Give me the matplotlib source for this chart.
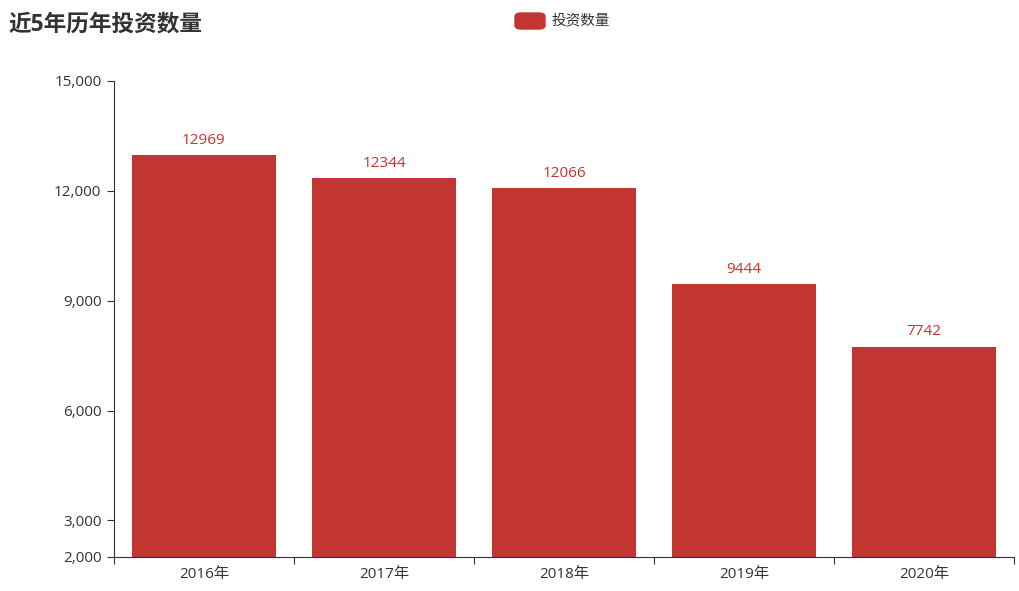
import matplotlib.pyplot as plt
import matplotlib as mpl
from matplotlib.patches import FancyBboxPatch
import numpy as np

mpl.rcParams['font.family'] = ['Open Sans', 'Noto Sans CJK SC']

# data
years = ['2016年', '2017年', '2018年', '2019年', '2020年']
counts = [12969, 12344, 12066, 9444, 7742]
y_ticks = [2000, 3000, 6000, 9000, 12000, 15000]

bar_color = '#c23531'
text_color = '#333333'

fig = plt.figure(figsize=(10.2, 5.91), dpi=100)
ax = fig.add_axes([114 / 1020, 34 / 591, 900 / 1020, 476 / 591])

x = np.arange(len(years))
ax.bar(x, counts, width=0.8, color=bar_color, zorder=2)
for xi, v in zip(x, counts):
    ax.text(xi, v + 200, str(v), ha='center', va='bottom', color=bar_color, fontsize=11)

ax.set_xlim(-0.5, len(years) - 0.5)
ax.set_ylim(2000, 15000)

ax.set_yticks(y_ticks)
ax.set_yticklabels([f'{t:,}' for t in y_ticks])
ax.set_xticks(np.arange(len(years) + 1) - 0.5)
ax.set_xticklabels([])
ax.set_xticks(x, minor=True)
ax.set_xticklabels(years, minor=True)
ax.tick_params(axis='x', which='minor', length=0, pad=7.5, labelsize=11, labelcolor=text_color)
ax.tick_params(axis='x', which='major', length=5, color=text_color, direction='out')
ax.tick_params(axis='y', length=5, color=text_color, labelsize=11, labelcolor=text_color, pad=4)

for side in ['top', 'right']:
    ax.spines[side].set_visible(False)
ax.spines['left'].set_color(text_color)
ax.spines['bottom'].set_color(text_color)

# title and legend
fig.text(8 / 1020, 1 - 24 / 591, '近5年历年投资数量', fontsize=16.3, fontweight='bold',
         color=text_color, va='center', ha='left')
leg_box = FancyBboxPatch((515 / 1020, 1 - 29 / 591), 30 / 1020, 16 / 591,
                         boxstyle='round,pad=0,rounding_size=0.006',
                         transform=fig.transFigure, color=bar_color)
fig.patches.append(leg_box)
fig.text(552 / 1020, 1 - 21 / 591, '投资数量', fontsize=10.5, color=text_color,
         va='center', ha='left')

fig.savefig('out.png', dpi=100)
